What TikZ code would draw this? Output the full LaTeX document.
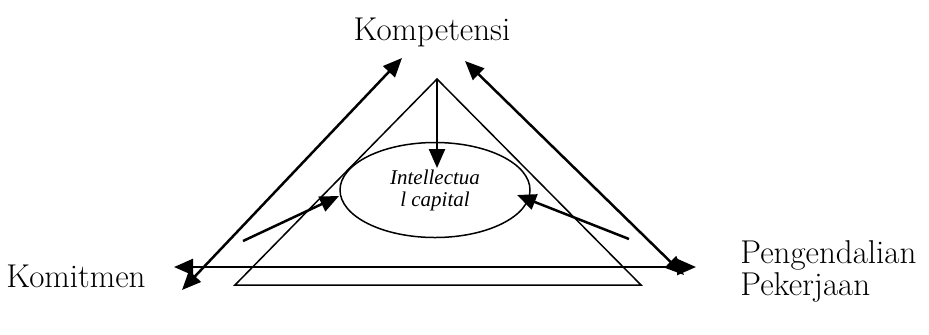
\documentclass[tikz,border=0pt]{standalone}
\usepackage{fontspec}
\newfontfamily\capfont{Liberation Serif}
\usetikzlibrary{arrows.meta,shapes.geometric}
\begin{document}
\begin{tikzpicture}[x=0.5pt, y=-0.5pt,
  pole/.style={font=\fontsize{16.5}{14.5}\selectfont, inner sep=0pt},
  core/.style={ellipse, draw, line width=0.75pt, minimum width=95pt, minimum height=47.5pt,
               inner sep=0pt, align=center,
               font=\capfont\itshape\fontsize{10.5}{11}\selectfont},
  frame/.style={line width=0.75pt},
  link/.style={line width=1.25pt, -{Triangle[length=9.5pt,width=8pt]}},
  both/.style={line width=1.25pt, {Triangle[length=9.5pt,width=8pt]}-{Triangle[length=9.5pt,width=8pt]}},
]
\useasboundingbox (0,0) rectangle (929,334);

% the three poles
\node[pole, anchor=base]      (komp) at (432,40)  {Kompetensi};
\node[pole, anchor=base west] (komt) at (6,287)   {Komitmen};
\node[pole, anchor=base west, align=left] (peng) at (740,295) {Pengendalian\\Pekerjaan};

% inner triangle and the ellipse
\coordinate (top) at (437,79);
\coordinate (bl)  at (235,285);
\coordinate (br)  at (641,285);
\draw[frame] (top) -- (bl) -- (br) -- cycle;
\node[core] (ic) at (435,190) {Intellectua\\l capital};

% arrows into the ellipse
\coordinate (dn) at (437,168);
\coordinate (lf) at (243,241);
\coordinate (lt) at (339,196);
\coordinate (rf) at (629,239);
\coordinate (rt) at (517,195);
\draw[link] (top) -- (dn);
\draw[link] (lf) -- (lt);
\draw[link] (rf) -- (rt);

% outer double arrows
\coordinate (a1) at (182,290);
\coordinate (a2) at (402,58);
\coordinate (b1) at (465,61);
\coordinate (b2) at (684,275);
\coordinate (c1) at (174,267);
\coordinate (c2) at (696,267);
\draw[both] (a1) -- (a2);
\draw[both] (b1) -- (b2);
\draw[both] (c1) -- (c2);
\end{tikzpicture}
\end{document}
